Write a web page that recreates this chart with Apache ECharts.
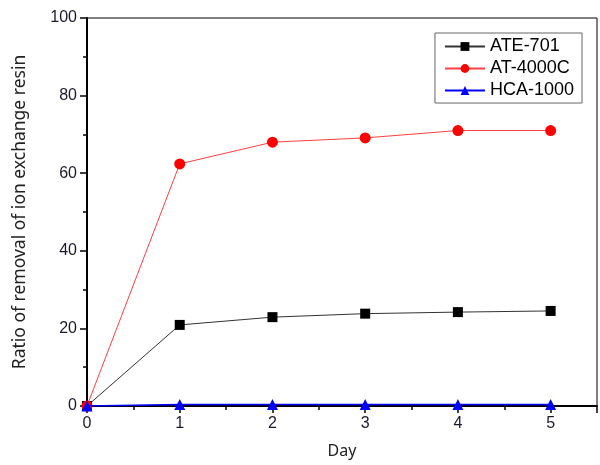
<!DOCTYPE html>
<html><head><meta charset="utf-8">
<script src="https://cdn.jsdelivr.net/npm/echarts@6/dist/echarts.min.js"></script>
<style>html,body{margin:0;padding:0;background:#fff}#c{width:600px;height:465px}</style>
</head><body><div id="c"></div>
<script>
var days = [0, 1, 2, 3, 4, 5];
var seriesNames = ['ATE-701', 'AT-4000C', 'HCA-1000'];
var ate701 = [0, 20.9, 22.9, 23.8, 24.2, 24.5];
var at4000c = [0, 62.4, 68.0, 69.1, 71.0, 71.0];
var hca1000 = [0, 0.4, 0.4, 0.4, 0.4, 0.4];
var yTicks = [0, 20, 40, 60, 80, 100];

function pairs(v){ return days.map(function(d,i){ return [d, v[i]]; }); }

var chart = echarts.init(document.getElementById('c'), null, {renderer:'canvas'});
var labelFont = {fontFamily:'Liberation Sans, Arial, sans-serif', fontSize:16, color:'#1a1a2e'};
chart.setOption({
  animation:false,
  backgroundColor:'#fff',
  grid:{left:87, right:3, top:18, bottom:59, show:true, borderColor:'#000', borderWidth:1},
  legend:{
    data:seriesNames, orient:'vertical', right:18, top:33,
    backgroundColor:'#fff', borderColor:'#666', borderWidth:1, padding:[4,8,3,9],
    itemGap:3, itemWidth:40, itemHeight:11,
    textStyle:{fontFamily:'Liberation Sans, Arial, sans-serif', fontSize:18, color:'#000', lineHeight:19}
  },
  xAxis:{
    type:'value', min:0, max:5.5, interval:1,
    name:'Day', nameLocation:'middle', nameGap:37,
    nameTextStyle:{fontFamily:'Noto Sans, sans-serif', fontSize:16, color:'#222'},
    axisLine:{lineStyle:{color:'#000', width:2}},
    axisTick:{show:true, inside:false, length:7, lineStyle:{color:'#000', width:1.5}},
    minorTick:{show:true, splitNumber:2, length:4, lineStyle:{color:'#000', width:1.5}},
    splitLine:{show:false},
    axisLabel:Object.assign({margin:10, formatter:function(v){ return days.indexOf(v) >= 0 ? String(v) : ''; }}, labelFont)
  },
  yAxis:{
    type:'value', min:0, max:100, interval:20,
    name:'Ratio of removal of ion exchange resin', nameLocation:'middle', nameGap:58,
    nameTextStyle:{fontFamily:'Noto Sans, sans-serif', fontSize:17.5, color:'#222'},
    axisLine:{lineStyle:{color:'#000', width:2}},
    axisTick:{show:true, inside:false, length:7, lineStyle:{color:'#000', width:1.5}},
    minorTick:{show:true, splitNumber:2, length:4, lineStyle:{color:'#000', width:1.5}},
    splitLine:{show:false},
    axisLabel:Object.assign({margin:10, formatter:function(v){ return yTicks.indexOf(v) >= 0 ? String(v) : ''; }}, labelFont)
  },
  series:[
    {name:seriesNames[0], type:'line', data:pairs(ate701), symbol:'rect', symbolSize:10,
     itemStyle:{color:'#000'}, lineStyle:{color:'#333', width:1}, z:2},
    {name:seriesNames[1], type:'line', data:pairs(at4000c), symbol:'circle', symbolSize:11,
     itemStyle:{color:'#ff0000'}, lineStyle:{color:'#ff4040', width:1}, z:3},
    {name:seriesNames[2], type:'line', data:pairs(hca1000), symbol:'triangle', symbolSize:11,
     itemStyle:{color:'#0000ff'}, lineStyle:{color:'#0000ff', width:1.5}, z:4}
  ]
});
</script></body></html>
